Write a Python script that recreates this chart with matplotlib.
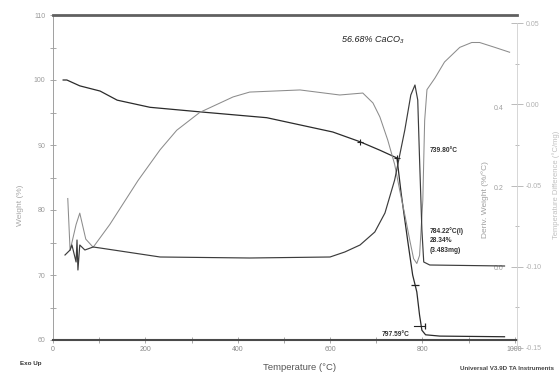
import matplotlib
matplotlib.use("Agg")
import matplotlib.pyplot as plt
import numpy as np

plt.rcParams['font.family'] = ['Liberation Sans', 'DejaVu Sans']

# TGA weight curve (temperature in degC, weight in %)
tg_temp = [22, 30, 58, 102, 139, 210, 318, 463, 606, 665, 708, 745, 754, 768, 779, 788, 794, 799, 807, 838, 978]
tg_weight = [100.0, 100.0, 99.1, 98.3, 96.9, 95.8, 95.1, 94.2, 92.0, 90.5, 89.2, 88.0, 82.6, 75.4, 70.0, 67.4, 63.8, 61.5, 60.8, 60.6, 60.5]

# derivative weight (%/degC)
dtg_temp = [26, 37, 41, 50, 52, 54, 58, 69, 87, 102, 232, 426, 600, 632, 665, 697, 719, 740, 762, 775, 784, 790, 794, 799, 803, 816, 978]
dtg_value = [0.03, 0.0425, 0.055, 0.0125, 0.0675, -0.0075, 0.055, 0.0425, 0.05, 0.0475, 0.025, 0.0225, 0.025, 0.0375,
             0.055, 0.0875, 0.135, 0.2175, 0.3425, 0.43, 0.455, 0.4175, 0.2675, 0.0925, 0.0125, 0.005, 0.0025]

# temperature difference (degC/mg)
dta_temp = [32, 37, 50, 58, 71, 87, 123, 184, 232, 268, 318, 390, 426, 535, 621, 671, 693, 708, 725, 740, 751, 762,
            773, 781, 788, 794, 801, 805, 810, 827, 848, 881, 907, 924, 957, 989]
dta_value = [-0.058, -0.090, -0.074, -0.067, -0.083, -0.088, -0.074, -0.047, -0.028, -0.016, -0.005, 0.0045, 0.0075,
             0.0088, 0.0057, 0.0069, 0.0008, -0.0078, -0.022, -0.037, -0.053, -0.068, -0.084, -0.095, -0.098, -0.093,
             -0.059, -0.010, 0.009, 0.016, 0.026, 0.035, 0.038, 0.038, 0.035, 0.032]

x_ticks = [0, 200, 400, 600, 800, 1000]
w_ticks = [60, 70, 80, 90, 100, 110]
dtg_ticks = [0.0, 0.2, 0.4]
dta_ticks = [-0.15, -0.10, -0.05, 0.00, 0.05]

onset_temp = 739.80
infl_temp = 784.22
end_temp = 797.59

W, H = 559, 374
fig = plt.figure(figsize=(W / 100, H / 100), dpi=100)
fig.patch.set_facecolor('white')

def box(l, t, r, b):
    return [l / W, 1 - b / H, (r - l) / W, (b - t) / H]

tick_c = '#9a9a9a'

# weight axes
ax = fig.add_axes(box(53, 15, 517, 340))
ax.plot(tg_temp, tg_weight, color='#2b2b2b', lw=0.9)
ax.set_xlim(0, 1005)
ax.set_ylim(60, 110)
ax.set_xticks(x_ticks)
ax.set_xticks(np.arange(100, 1000, 200), minor=True)
ax.set_yticks(w_ticks)
ax.set_yticks(np.arange(65, 110, 10), minor=True)
ax.tick_params(axis='both', which='both', direction='inout', colors=tick_c, labelsize=5, length=4, width=0.6)
ax.tick_params(axis='x', labelcolor='#8a8a8a', pad=2)
ax.spines['top'].set_color('#606060')
ax.spines['top'].set_linewidth(2)
ax.spines['bottom'].set_color('#4a4a4a')
ax.spines['bottom'].set_linewidth(1.5)
ax.spines['left'].set_color('#a0a0a0')
ax.spines['left'].set_linewidth(0.7)
ax.spines['right'].set_visible(False)

# markers on the weight step
w_inf = np.interp(infl_temp, tg_temp, tg_weight)
w_end = np.interp(end_temp, tg_temp, tg_weight)
ax.plot([665, 745], [np.interp(665, tg_temp, tg_weight), np.interp(745, tg_temp, tg_weight)],
        ls='none', marker='+', ms=5, mew=0.8, color='#222222')
ax.plot([infl_temp], [w_inf], ls='none', marker='_', ms=6, mew=0.9, color='#222222')
ax.plot([end_temp - 15, end_temp + 8], [w_end, w_end], color='#222222', lw=0.8)
ax.plot([end_temp + 8], [w_end], marker='|', ms=5, mew=0.9, color='#222222')

ax.text(816, 89.2, f'{onset_temp:.2f}°C', fontsize=4.8, fontweight='bold', color='#333333', va='center')
ax.text(816, 75.3, f'{infl_temp:.2f}°C(I)\n28.34%\n(3.483mg)', fontsize=4.8, fontweight='bold',
        color='#333333', va='center', linespacing=1.45)
ax.text(773, 60.8, f'{end_temp:.2f}°C', fontsize=4.8, fontweight='bold', color='#333333', va='center', ha='right')
ax.text(693, 106.3, '56.68% CaCO₃', fontsize=6.5, color='#222222', ha='center', va='center', style='italic')

# temperature difference axes (outer right scale)
ax3 = fig.add_axes(box(53, 23, 517, 348))
ax3.patch.set_alpha(0)
ax3.plot(dta_temp, dta_value, color='#8c8c8c', lw=0.75)
ax3.set_xlim(0, 1005)
ax3.set_ylim(-0.15, 0.05)
ax3.xaxis.set_visible(False)
for s in ['top', 'bottom', 'left']:
    ax3.spines[s].set_visible(False)
ax3.spines['right'].set_color('#d0d0d0')
ax3.spines['right'].set_linewidth(0.6)
ax3.yaxis.tick_right()
ax3.set_yticks(dta_ticks)
ax3.set_yticklabels([f'{v:.2f}' for v in dta_ticks])
ax3.set_yticks(np.arange(-0.125, 0.05, 0.05), minor=True)
ax3.tick_params(axis='y', which='both', direction='inout', colors='#b0b0b0', labelsize=5, length=8, width=0.6, pad=2)
ax3.tick_params(axis='y', which='minor', length=3)

# derivative weight axes (labels inside the frame)
ax4 = fig.add_axes(box(53, 23, 517, 348))
ax4.patch.set_alpha(0)
ax4.plot(dtg_temp, dtg_value, color='#3c3c3c', lw=0.85)
ax4.set_xlim(0, 1005)
ax4.set_ylim(-0.2025, 0.61)
ax4.xaxis.set_visible(False)
ax4.yaxis.tick_right()
ax4.set_yticks(dtg_ticks)
ax4.set_yticklabels([f'{v:.1f}' for v in dtg_ticks])
ax4.tick_params(axis='y', length=0, labelsize=5, colors='#a0a0a0', pad=-17)
for s in ax4.spines.values():
    s.set_visible(False)

# axis titles and corner notes
fig.text(20 / W, 1 - 205 / H, 'Weight (%)', rotation=90, fontsize=6, color='#a8a8a8', ha='center', va='center')
fig.text(300 / W, 1 - 367 / H, 'Temperature (°C)', fontsize=6.8, color='#555555', ha='center', va='center')
fig.text(485 / W, 1 - 200 / H, 'Deriv. Weight (%/°C)', rotation=90, fontsize=6, color='#a0a0a0', ha='center', va='center')
fig.text(556 / W, 1 - 185 / H, 'Temperature Difference (°C/mg)', rotation=90, fontsize=5.5, color='#c0c0c0',
         ha='center', va='center')
fig.text(20 / W, 1 - 364 / H, 'Exo Up', fontsize=4.5, fontweight='bold', color='#333333', ha='left', va='center')
fig.text(460 / W, 1 - 369 / H, 'Universal V3.9D TA Instruments', fontsize=4.5, fontweight='bold', color='#444444',
         ha='left', va='center')

fig.savefig('out.png', dpi=100, facecolor='white')
